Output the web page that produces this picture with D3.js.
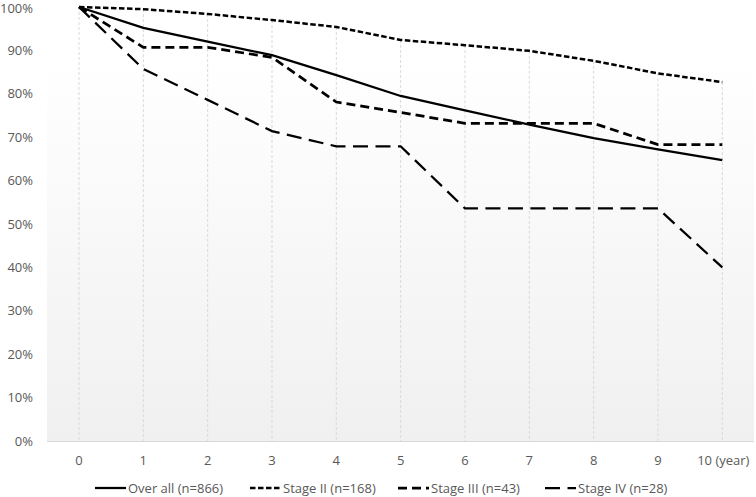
<!DOCTYPE html>
<html><head><meta charset="utf-8">
<script src="https://cdn.jsdelivr.net/npm/d3@7"></script>
<style>body{margin:0;background:#fff}svg{display:block}text{font-family:"Open Sans",sans-serif;fill:#595959}</style>
</head><body><svg id="c" width="756" height="497"></svg>
<script>
const years = [0,1,2,3,4,5,6,7,8,9,10];
const xLabels = ["0","1","2","3","4","5","6","7","8","9","10 (year)"];
const yTicks = [0,0.1,0.2,0.3,0.4,0.5,0.6,0.7,0.8,0.9,1.0];
const seriesNames = ["Over all (n=866)","Stage II (n=168)","Stage III (n=43)","Stage IV (n=28)"];
const overall = [1.000,0.952,0.920,0.889,0.843,0.795,0.762,0.729,0.698,0.672,0.647];
const stage2  = [1.000,0.995,0.984,0.970,0.954,0.924,0.912,0.899,0.876,0.847,0.827];
const stage3  = [1.000,0.907,0.907,0.884,0.781,0.757,0.732,0.732,0.732,0.683,0.683];
const stage4  = [1.000,0.857,0.786,0.714,0.679,0.679,0.536,0.536,0.536,0.536,0.400];
const allSeries = [overall, stage2, stage3, stage4];
const dashes = [null, "5.5,2.5", "9,5", "15,7.5"];
const widths = [2.25, 2.5, 2.75, 2.25];

const svg = d3.select("#c");
const x = d3.scalePoint().domain(years).range([79, 722.3]);
const y = d3.scaleLinear().domain([0,1]).range([441, 7]);

const defs = svg.append("defs");
const g = defs.append("linearGradient").attr("id","bg").attr("x1",0).attr("y1",0).attr("x2",0).attr("y2",1);
g.append("stop").attr("offset","0%").attr("stop-color","#ffffff");
g.append("stop").attr("offset","100%").attr("stop-color","#f0f0f0");
svg.append("rect").attr("x",47).attr("y",60).attr("width",707).attr("height",381).attr("fill","url(#bg)");

// drop lines
svg.append("g").selectAll("line").data(years).join("line")
  .attr("x1",d=>x(d)).attr("x2",d=>x(d))
  .attr("y1",(d,i)=>y(d3.max(allSeries,s=>s[i]))).attr("y2",y(0))
  .attr("stroke","#d9d9d9").attr("stroke-width",1).attr("stroke-dasharray","3,2");

// x axis line
svg.append("line").attr("x1",47).attr("x2",754).attr("y1",y(0)+0.5).attr("y2",y(0)+0.5).attr("stroke","#d9d9d9");

// y labels
svg.append("g").selectAll("text").data(yTicks).join("text")
  .attr("x",33).attr("y",d=>y(d)+ (d===1?1.5:0)).attr("dy","0.35em").attr("text-anchor","end")
  .style("font-size","13px").text(d=>d3.format(".0%")(d));

// x labels
svg.append("g").selectAll("text").data(years).join("text")
  .attr("x",d=>x(d)+(d===10?1:0)).attr("y",460).attr("dy","0.35em")
  .attr("text-anchor","middle")
  .style("font-size","13px").text((d,i)=>xLabels[i]);

const line = d3.line().x((d,i)=>x(years[i])).y(d=>y(d));
svg.append("g").selectAll("path").data(allSeries).join("path")
  .attr("d",line).attr("fill","none").attr("stroke","#000")
  .attr("stroke-width",(d,i)=>widths[i])
  .attr("stroke-dasharray",(d,i)=>dashes[i]);

// legend
const lx = [95, 250, 398, 545];
const lg = svg.append("g").selectAll("g").data(seriesNames).join("g")
  .attr("transform",(d,i)=>`translate(${lx[i]},488)`);
lg.append("line").attr("x1",0).attr("x2",31).attr("y1",0).attr("y2",0)
  .attr("stroke","#000").attr("stroke-width",(d,i)=>widths[i])
  .attr("stroke-dasharray",(d,i)=>dashes[i]);
lg.append("text").attr("x",33).attr("dy","0.35em").style("font-size","13px").text(d=>d);
</script></body></html>
